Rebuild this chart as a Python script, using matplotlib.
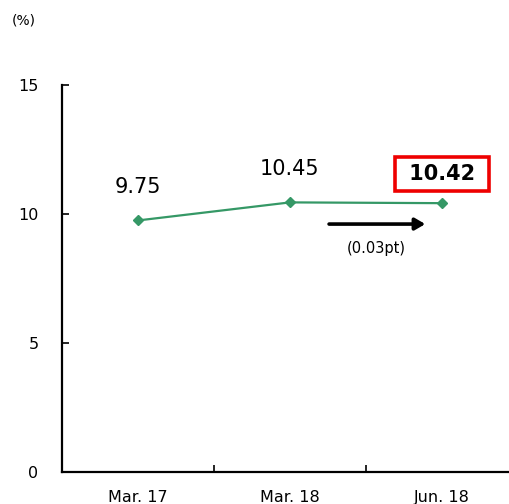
import matplotlib
matplotlib.use('Agg')
from matplotlib import pyplot as plt
from matplotlib.patches import FancyArrowPatch

periods = ['Mar. 17', 'Mar. 18', 'Jun. 18']
ratio = [9.75, 10.45, 10.42]
labels = ['9.75', '10.45', '10.42']
change_note = '(0.03pt)'

green = '#359866'

fig = plt.figure(figsize=(5.09, 5.04), dpi=100)
# the plot area runs past the right edge so the bottom line goes off the page
ax = fig.add_axes([62 / 509, 32 / 504, 456 / 509, 387 / 504])

x = list(range(len(periods)))
ax.plot(x, ratio, color=green, lw=1.6, marker='D', ms=5.5,
        markerfacecolor=green, markeredgecolor=green)

ax.set_xlim(-0.5, 2.5)
ax.set_ylim(0, 15)
ax.set_yticks([0, 5, 10, 15])
ax.set_xticks(x)
ax.set_xticklabels(periods)
ax.set_xticks([0.5, 1.5], minor=True)

for s in ['top', 'right']:
    ax.spines[s].set_visible(False)
for s in ['left', 'bottom']:
    ax.spines[s].set_linewidth(1.6)

ax.tick_params(axis='y', direction='in', length=5, width=1.2, pad=17, labelsize=11.5)
ax.tick_params(axis='x', which='major', length=0, pad=13, labelsize=11.5)
ax.tick_params(axis='x', which='minor', direction='in', length=5, width=1.2)

# value labels over the first two points
for i in range(2):
    ax.annotate(labels[i], (x[i], ratio[i]), xytext=(0, 33), textcoords='offset pixels',
                ha='center', va='center', fontsize=15)

# latest value, bold in a red box
ax.annotate(' ' + labels[2] + ' ', (x[2], ratio[2]), xytext=(0, 29), textcoords='offset pixels',
            ha='center', va='center', fontsize=15, fontweight='bold',
            bbox=dict(boxstyle='square,pad=0.35', fc='white', ec='#ee0000', lw=2.6))

# change arrow
arr = FancyArrowPatch((1.257, 9.61), (1.89, 9.61), arrowstyle='-|>,head_length=6,head_width=3.5',
                      mutation_scale=1, color='black', lw=2.6, shrinkA=0, shrinkB=0)
ax.add_patch(arr)
ax.text(1.57, 8.68, change_note, ha='center', va='center', fontsize=10.5)

fig.text(12 / 509, 1 - 20 / 504, '(%)', ha='left', va='center', fontsize=10)

fig.savefig('out.png', dpi=100)
